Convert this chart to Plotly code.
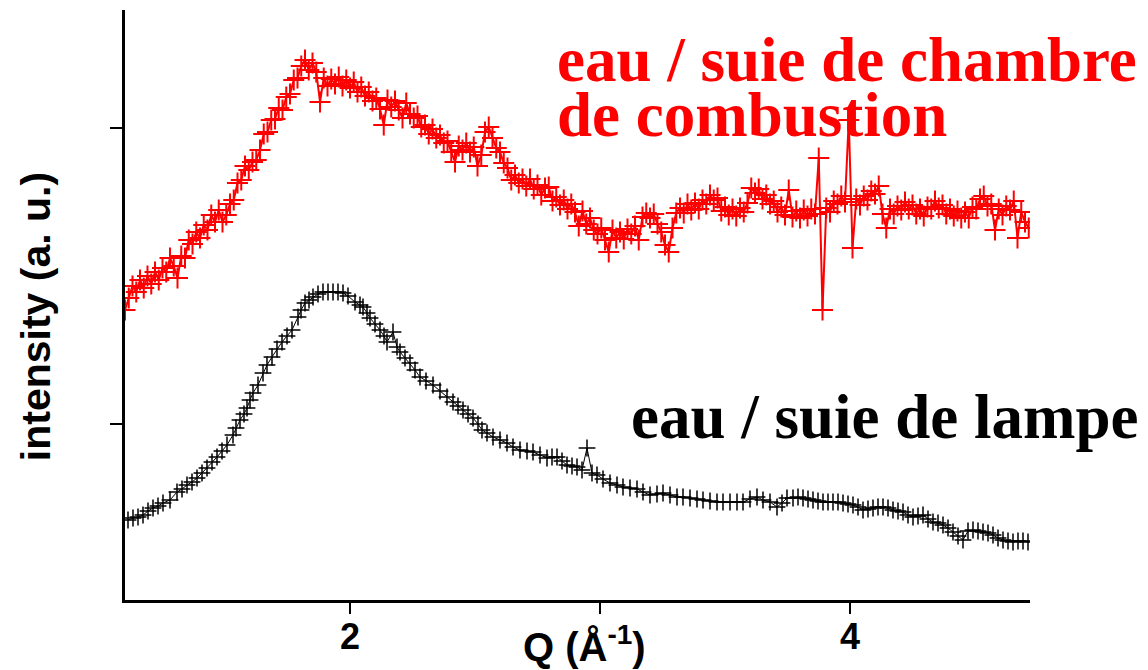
import plotly.graph_objects as go

# --- eau / suie de lampe (black) ---
q_lampe = [
    1.112, 1.132, 1.152, 1.172, 1.192, 1.212, 1.232, 1.252, 1.280, 1.308,
    1.328, 1.348, 1.368, 1.388, 1.408, 1.428, 1.448, 1.468, 1.488, 1.508,
    1.532, 1.544, 1.560, 1.576, 1.588, 1.600, 1.612, 1.632, 1.652, 1.668,
    1.688, 1.708, 1.728, 1.748, 1.768, 1.792, 1.804, 1.820, 1.836, 1.852,
    1.872, 1.892, 1.912, 1.932, 1.952, 1.972, 1.992, 2.020, 2.040, 2.052,
    2.068, 2.080, 2.100, 2.120, 2.136, 2.148, 2.172, 2.188, 2.200, 2.220,
    2.240, 2.260, 2.280, 2.304, 2.332, 2.360, 2.388, 2.412, 2.432, 2.452,
    2.472, 2.492, 2.512, 2.528, 2.548, 2.572, 2.600, 2.628, 2.652, 2.680,
    2.708, 2.732, 2.760, 2.788, 2.808, 2.828, 2.848, 2.868, 2.888, 2.908,
    2.928, 2.948, 2.968, 2.988, 3.012, 3.040, 3.068, 3.092, 3.120, 3.148,
    3.172, 3.200, 3.228, 3.252, 3.280, 3.308, 3.332, 3.360, 3.388, 3.412,
    3.440, 3.468, 3.492, 3.520, 3.548, 3.572, 3.600, 3.628, 3.652, 3.680,
    3.708, 3.728, 3.748, 3.772, 3.792, 3.812, 3.832, 3.852, 3.872, 3.892,
    3.912, 3.932, 3.952, 3.972, 3.992, 4.012, 4.032, 4.052, 4.072, 4.092,
    4.112, 4.132, 4.152, 4.172, 4.192, 4.212, 4.232, 4.252, 4.272, 4.292,
    4.312, 4.332, 4.352, 4.372, 4.392, 4.412, 4.432, 4.452, 4.472, 4.492,
    4.512, 4.532, 4.552, 4.572, 4.592, 4.612, 4.632, 4.652, 4.672, 4.692,
    4.712,
]
i_lampe = [
    80, 82, 83, 85, 89, 92, 94, 97, 100, 108,
    111, 115, 118, 122, 127, 132, 138, 143, 149, 155,
    165, 172, 180, 186, 192, 200, 207, 215, 227, 235,
    243, 251, 258, 264, 270, 283, 290, 297, 300, 303,
    306, 308, 308, 308, 308, 307, 304, 298, 295, 293,
    287, 282, 276, 270, 264, 258, 268, 253, 248, 242,
    237, 230, 223, 219, 215, 209, 203, 198, 194, 190,
    186, 182, 176, 170, 167, 163, 160, 157, 153, 150,
    149, 148, 145, 142, 143, 143, 139, 135, 134, 133,
    130, 152, 127, 125, 121, 117, 115, 113, 112, 111,
    108, 105, 106, 107, 105, 103, 103, 102, 101, 100,
    99, 98, 98, 98, 98, 98, 101, 103, 100, 98,
    93, 97, 102, 102, 103, 102, 101, 100, 99, 98,
    98, 98, 98, 97, 96, 95, 93, 90, 91, 92,
    93, 93, 92, 90, 89, 88, 85, 83, 84, 85,
    81, 78, 77, 75, 72, 68, 64, 60, 69, 70,
    69, 68, 67, 65, 62, 60, 59, 58, 59, 59,
    58,
]

# --- eau / suie de chambre de combustion (red) ---
q_chambre = [
    1.100, 1.115, 1.130, 1.145, 1.160, 1.175, 1.190, 1.205, 1.220, 1.235,
    1.250, 1.265, 1.280, 1.295, 1.310, 1.325, 1.340, 1.355, 1.370, 1.385,
    1.400, 1.415, 1.430, 1.445, 1.460, 1.475, 1.490, 1.505, 1.520, 1.535,
    1.550, 1.565, 1.580, 1.595, 1.610, 1.625, 1.640, 1.655, 1.670, 1.685,
    1.700, 1.715, 1.730, 1.745, 1.760, 1.775, 1.790, 1.805, 1.820, 1.835,
    1.850, 1.865, 1.880, 1.895, 1.910, 1.925, 1.940, 1.955, 1.970, 1.985,
    2.000, 2.015, 2.030, 2.045, 2.060, 2.075, 2.090, 2.105, 2.120, 2.135,
    2.150, 2.165, 2.180, 2.195, 2.210, 2.225, 2.240, 2.255, 2.270, 2.285,
    2.300, 2.315, 2.330, 2.345, 2.360, 2.375, 2.390, 2.405, 2.420, 2.435,
    2.450, 2.465, 2.480, 2.495, 2.510, 2.525, 2.540, 2.555, 2.570, 2.585,
    2.600, 2.615, 2.630, 2.645, 2.660, 2.675, 2.690, 2.705, 2.720, 2.735,
    2.750, 2.765, 2.780, 2.795, 2.810, 2.825, 2.840, 2.855, 2.870, 2.885,
    2.900, 2.915, 2.930, 2.945, 2.960, 2.975, 2.990, 3.005, 3.020, 3.035,
    3.050, 3.065, 3.080, 3.095, 3.110, 3.125, 3.140, 3.155, 3.170, 3.185,
    3.200, 3.215, 3.230, 3.245, 3.260, 3.275, 3.290, 3.305, 3.320, 3.335,
    3.350, 3.365, 3.380, 3.395, 3.410, 3.425, 3.440, 3.455, 3.470, 3.485,
    3.500, 3.515, 3.530, 3.545, 3.560, 3.575, 3.590, 3.605, 3.620, 3.635,
    3.650, 3.665, 3.680, 3.695, 3.710, 3.725, 3.740, 3.755, 3.770, 3.785,
    3.800, 3.815, 3.830, 3.845, 3.860, 3.875, 3.890, 3.905, 3.920, 3.935,
    3.950, 3.965, 3.980, 3.995, 4.010, 4.025, 4.040, 4.055, 4.070, 4.085,
    4.100, 4.115, 4.130, 4.145, 4.160, 4.175, 4.190, 4.205, 4.220, 4.235,
    4.250, 4.265, 4.280, 4.295, 4.310, 4.325, 4.340, 4.355, 4.370, 4.385,
    4.400, 4.415, 4.430, 4.445, 4.460, 4.475, 4.490, 4.505, 4.520, 4.535,
    4.550, 4.565, 4.580, 4.595, 4.610, 4.625, 4.640, 4.655, 4.670, 4.685,
    4.700, 4.715,
]
i_chambre = [
    290, 302, 314, 308, 320, 312, 324, 316, 328, 320,
    332, 328, 342, 334, 322, 344, 342, 360, 356, 368,
    362, 375, 370, 385, 378, 390, 378, 385, 396, 400,
    417, 420, 434, 430, 438, 440, 450, 466, 468, 480,
    481, 492, 490, 503, 506, 520, 522, 534, 540, 530,
    537, 528, 498, 522, 514, 521, 516, 523, 514, 520,
    512, 518, 508, 513, 504, 508, 499, 502, 491, 475,
    500, 493, 499, 490, 482, 497, 486, 482, 484, 473,
    475, 466, 471, 462, 465, 457, 459, 448, 438, 454,
    450, 457, 448, 453, 434, 445, 468, 473, 462, 452,
    448, 437, 432, 420, 425, 417, 421, 414, 421, 411,
    415, 405, 412, 413, 399, 403, 395, 400, 391, 396,
    388, 374, 389, 376, 382, 370, 366, 372, 360, 348,
    370, 362, 368, 361, 371, 366, 374, 360, 383, 387,
    382, 386, 376, 368, 355, 348, 372, 387, 392, 387,
    396, 390, 397, 391, 400, 396, 405, 400, 402, 389,
    393, 385, 391, 384, 392, 388, 397, 412, 407, 411,
    401, 405, 396, 399, 388, 393, 385, 410, 383, 389,
    382, 390, 384, 391, 386, 442, 290, 392, 388, 399,
    396, 404, 398, 480, 352, 401, 395, 404, 400, 409,
    406, 414, 386, 372, 391, 386, 394, 390, 398, 391,
    395, 386, 391, 384, 393, 391, 399, 392, 395, 386,
    391, 384, 389, 382, 388, 382, 393, 391, 401, 404,
    394, 396, 370, 391, 385, 394, 390, 399, 362, 388,
    378, 372,
]

x_ticks = [2, 4]
x_minor_ticks = [3]
y_ticks = [176, 472]

SANS = "Liberation Sans, Arial, sans-serif"
SERIF = "Liberation Serif, Times New Roman, serif"

fig = go.Figure()

fig.add_trace(go.Scatter(
    x=q_lampe, y=i_lampe,
    mode="lines+markers",
    line=dict(color="black", width=1),
    marker=dict(symbol="cross-thin", size=12, line=dict(color="black", width=1.5)),
    showlegend=False,
))

fig.add_trace(go.Scatter(
    x=q_chambre, y=i_chambre,
    mode="lines+markers",
    line=dict(color="#ff0000", width=2),
    marker=dict(symbol="cross-thin", size=15, line=dict(color="#ff0000", width=2)),
    showlegend=False,
))

annotations = [
    dict(text="eau / suie de chambre", x=0.475, y=0.916, xanchor="left", yanchor="middle",
         font=dict(family=SERIF, size=63, color="#ff0000", weight="bold")),
    dict(text="de combustion", x=0.475, y=0.822, xanchor="left", yanchor="middle",
         font=dict(family=SERIF, size=63, color="#ff0000", weight="bold")),
    dict(text="eau / suie de lampe", x=0.557, y=0.31, xanchor="left", yanchor="middle",
         font=dict(family=SERIF, size=63, color="black", weight="bold")),
    dict(text="Q (Å<sup>-1</sup>)", x=0.508, y=-0.074, xanchor="center", yanchor="middle",
         font=dict(family=SANS, size=40, color="black", weight="bold")),
    dict(text="intensity (a. u.)", x=-0.099, y=0.48, xanchor="center", yanchor="middle",
         textangle=-90, font=dict(family=SANS, size=41, color="black", weight="bold")),
]
for a in annotations:
    a.update(xref="paper", yref="paper", showarrow=False)

# the page body adds an 8 px offset, so the figure is 8 px smaller on each side
fig.update_layout(
    width=1140, height=662,
    paper_bgcolor="white", plot_bgcolor="white",
    margin=dict(l=117, r=118, t=2, b=70, autoexpand=False),
    annotations=annotations,
    xaxis=dict(
        range=[1.1, 4.72], showgrid=False, zeroline=False,
        showline=True, linecolor="black", linewidth=3,
        ticks="outside", ticklen=11, tickwidth=2, tickcolor="black",
        tickvals=x_ticks, ticklabelstandoff=-8,
        tickfont=dict(family=SANS, size=36, color="black", weight="bold"),
        minor=dict(tickvals=x_minor_ticks, ticks="outside", ticklen=11,
                   tickwidth=2, tickcolor="black", showgrid=False),
    ),
    yaxis=dict(
        range=[0, 590], showgrid=False, zeroline=False,
        showline=True, linecolor="black", linewidth=3,
        ticks="outside", ticklen=12, tickwidth=2, tickcolor="black",
        tickvals=y_ticks, showticklabels=False,
    ),
)

fig.write_html("out.html")
